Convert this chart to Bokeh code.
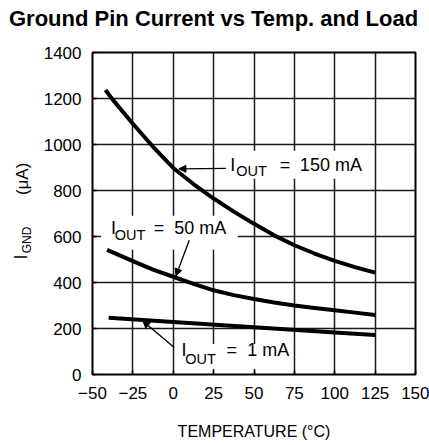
import math
from bokeh.plotting import figure
from bokeh.models import Range1d, FixedTicker, Label, Arrow, NormalHead
from bokeh.embed import file_html
from bokeh.resources import INLINE

# ---- data ----
temps_150 = [-42, -37.5, -25, -12.5, 0, 12.5, 25, 37.5, 50, 62.5, 75, 87.5, 100, 112.5, 125]
ignd_150 = [1237, 1195, 1090, 990, 898, 828, 765, 708, 655, 605, 562, 526, 494, 467, 443]
temps_50 = [-41, -25, -12.5, 0, 12.5, 25, 37.5, 50, 62.5, 75, 87.5, 100, 112.5, 125]
ignd_50 = [542, 493, 456, 425, 394, 366, 345, 328, 313, 300, 289, 279, 269, 259]
temps_1 = [-40, 0, 50, 100, 125]
ignd_1 = [247, 228, 205, 183, 172]

x_ticks = [-50, -25, 0, 25, 50, 75, 100, 125, 150]
x_tick_labels = ["\u221250", "\u221225", "0", "25", "50", "75", "100", "125", "150"]
y_ticks = [0, 200, 400, 600, 800, 1000, 1200, 1400]

title_text = "Ground Pin Current vs Temp. and Load"
x_label = "TEMPERATURE (\u00b0C)"

FONT = "Liberation Sans"

p = figure(width=429, height=445, output_backend="svg", toolbar_location=None,
           x_range=Range1d(-50, 150), y_range=Range1d(0, 1400),
           min_border_left=92, min_border_right=14, min_border_top=52, min_border_bottom=71)
p.background_fill_color = "white"
p.border_fill_color = "white"
p.outline_line_color = "black"
p.outline_line_width = 2

p.xaxis.ticker = FixedTicker(ticks=x_ticks)
p.yaxis.ticker = FixedTicker(ticks=y_ticks)
p.xaxis.major_label_overrides = {t: s for t, s in zip(x_ticks, x_tick_labels)}
for ax in (p.xaxis[0], p.yaxis[0]):
    ax.axis_line_color = None
    ax.major_tick_in = 4
    ax.major_tick_out = 0
    ax.minor_tick_line_color = None
    ax.major_tick_line_color = "black"
    ax.major_tick_line_width = 1.5
    ax.major_label_text_font = FONT
    ax.major_label_text_font_size = "17px"
    ax.major_label_text_color = "black"
p.xaxis.major_label_standoff = 12
p.yaxis.major_label_standoff = 11
p.xaxis.axis_label = x_label
p.xaxis.axis_label_text_font = FONT
p.xaxis.axis_label_text_font_size = "16px"
p.xaxis.axis_label_text_font_style = "normal"
p.xaxis.axis_label_text_color = "black"
p.xaxis.axis_label_standoff = 21

p.grid.grid_line_color = "#1a1a1a"
p.grid.grid_line_width = 1.5
p.grid.grid_line_alpha = 1.0

# white backgrounds behind the in-plot labels (hide the grid there)
p.quad(left=[33.2, -44.7, 3.5], right=[121.1, 39.9, 72.8],
       bottom=[851, 542, 24], top=[973, 690, 133],
       fill_color="white", line_color=None)

# curves
for xs, ys in ((temps_150, ignd_150), (temps_50, ignd_50), (temps_1, ignd_1)):
    p.line(xs, ys, line_color="black", line_width=4, line_join="round")

# arrows
for (x0, y0, x1, y1) in ((32.6, 896, 3.5, 894), (9.9, 584, 1.7, 429), (0.6, 117, -18.9, 233)):
    p.add_layout(Arrow(end=NormalHead(size=7, fill_color="black", line_color="black", line_width=1),
                       x_start=x0, y_start=y0, x_end=x1, y_end=y1,
                       line_color="black", line_width=1.3))

def lab(x, y, text, size="18px", angle=0.0, style="normal", place="center"):
    p.add_layout(Label(x=x, y=y, text=text, text_font=FONT, text_font_size=size,
                       text_font_style=style, text_color="black", angle=angle,
                       text_align="left", text_baseline="middle"), place)

# I_OUT = 150 mA
lab(35.3, 913, "I")
lab(39.0, 883, "OUT", "14.5px")
lab(66.0, 913, "=")
lab(78.4, 913, "150 mA")
# I_OUT = 50 mA
lab(-38.6, 637, "I")
lab(-36.3, 606, "OUT", "14.5px")
lab(-12.0, 637, "=")
lab(0.6, 637, "50 mA")
# I_OUT = 1 mA
lab(5.1, 106, "I")
lab(7.4, 66, "OUT", "14.5px")
lab(33.0, 106, "=")
lab(45.8, 106, "1 mA")

# y axis label: I_GND (µA), rotated (spread over side panels so the frame keeps its size)
lab(-94.0, 500, "I", "18px", math.pi / 2, place="left")
lab(-93.5, 780, "(\u03bcA)", "17px", math.pi / 2, place="left")
lab(-90.7, 527, "GND", "12px", math.pi / 2, place="right")

# title
lab(-101.7, 1550, title_text, "22px", 0.0, "bold", place="above")

open("out.html", "w").write(file_html(p, INLINE))
